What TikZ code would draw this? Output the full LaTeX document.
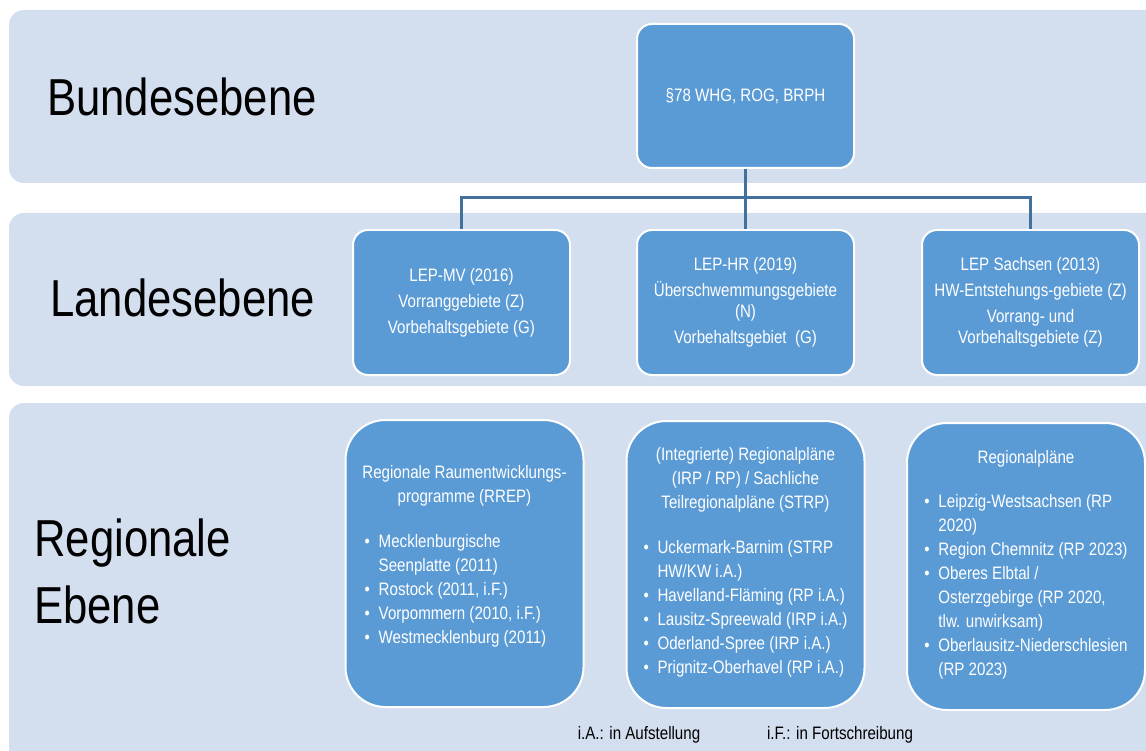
\documentclass[tikz,border=0pt]{standalone}
\usepackage{fontspec}
\setmainfont{Liberation Sans}[FakeStretch=0.84]
\usepackage{tikz}
\usetikzlibrary{positioning}

\definecolor{bandblau}{RGB}{211,222,239}
\definecolor{kastenblau}{RGB}{91,155,213}
\definecolor{linienblau}{RGB}{65,113,156}

\newcommand{\pkt}{\makebox[14pt][l]{\textbullet}}
\newcommand{\einr}{\hspace*{14pt}}

\begin{document}
\begin{tikzpicture}[x=1pt, y=-1pt, node distance=60pt, auto]

\tikzstyle{kasten}=[rectangle, rounded corners=15pt, draw=white, line width=2pt, fill=kastenblau, text=white, minimum width=217pt, minimum height=145pt, align=center, font=\fontsize{18}{21}\selectfont]
\tikzstyle{grosskasten}=[kasten, rounded corners=40pt, minimum width=238pt, minimum height=287pt, font=\fontsize{18}{24}\selectfont]
\tikzstyle{ebene}=[anchor=west, inner sep=0pt, align=left, font=\fontsize{52}{67}\selectfont]
\tikzstyle{linie}=[draw=linienblau, line width=3pt]
\tikzstyle{legende}=[font=\fontsize{18}{21}\selectfont]

\useasboundingbox (0,0) rectangle (1146,751);

% Baender
\fill[bandblau, rounded corners=15pt] (9,10) rectangle (1170,183);
\fill[bandblau, rounded corners=15pt] (9,213) rectangle (1170,386);
\fill[bandblau, rounded corners=15pt] (9,403) rectangle (1170,780);

\node[ebene] (bundesebene) at (47,97) {Bundesebene};
\node[ebene] (landesebene) at (50,298) {Landesebene};
\node[ebene] (regionalebene) at (34,571.5) {Regionale\\Ebene};

% Bund
\node[kasten, minimum height=144pt] (bund) at (745.5,96) {§78 WHG, ROG, BRPH};

% Laender
\node[kasten, below=60pt of bund] (lephr) {LEP-HR (2019)\\[5pt] Überschwemmungsgebiete\\ (N)\\[5pt] Vorbehaltsgebiet~~(G)};
\node[kasten, left=65pt of lephr] (lepmv) {LEP-MV (2016)\\[5pt] Vorranggebiete (Z)\\[5pt] Vorbehaltsgebiete (G)};
\node[kasten, right=66pt of lephr] (lepsn) {LEP Sachsen (2013)\\[5pt] HW-Entstehungs-gebiete (Z)\\[5pt] Vorrang- und\\ Vorbehaltsgebiete (Z)};

\draw[linie] (bund.south) -- ++(0,29) coordinate (knick);
\draw[linie] (knick) -| (lepmv.north);
\draw[linie] (knick) -- (lephr.north);
\draw[linie] (knick) -| (lepsn.north);

% Regionen
\node[grosskasten] (rrep) at (464.5,563.5) {Regionale Raumentwicklungs-\\ programme (RREP)\\[21pt]
  \begin{tabular}[t]{@{}l@{}}
  \pkt Mecklenburgische\\
  \einr Seenplatte (2011)\\
  \pkt Rostock (2011, i.F.)\\
  \pkt Vorpommern (2010, i.F.)\\
  \pkt Westmecklenburg (2011)
  \end{tabular}\hspace*{18pt}\raisebox{0pt}[0pt][115pt]{}};

\node[grosskasten] (irp) at (745.5,564.5) {(Integrierte) Regionalpläne\\ (IRP / RP) / Sachliche\\ Teilregionalpläne (STRP)\\[21pt]
  \begin{tabular}[t]{@{}l@{}}
  \pkt Uckermark-Barnim (STRP\\
  \einr HW/KW i.A.)\\
  \pkt Havelland-Fläming (RP i.A.)\\
  \pkt Lausitz-Spreewald (IRP i.A.)\\
  \pkt Oderland-Spree (IRP i.A.)\\
  \pkt Prignitz-Oberhavel (RP i.A.)
  \end{tabular}};

\node[grosskasten] (rpsn) at (1026,566.5) {Regionalpläne\\[20pt]
  \begin{tabular}[t]{@{}l@{}}
  \pkt Leipzig-Westsachsen (RP\\
  \einr 2020)\\
  \pkt Region Chemnitz (RP 2023)\\
  \pkt Oberes Elbtal /\\
  \einr Osterzgebirge (RP 2020,\\
  \einr tlw. unwirksam)\\
  \pkt Oberlausitz-Niederschlesien\\
  \einr (RP 2023)
  \end{tabular}};

\node[legende] (ia) at (639,735) {i.A.: in Aufstellung};
\node[legende] (if) at (840,735) {i.F.: in Fortschreibung};

\end{tikzpicture}
\end{document}
